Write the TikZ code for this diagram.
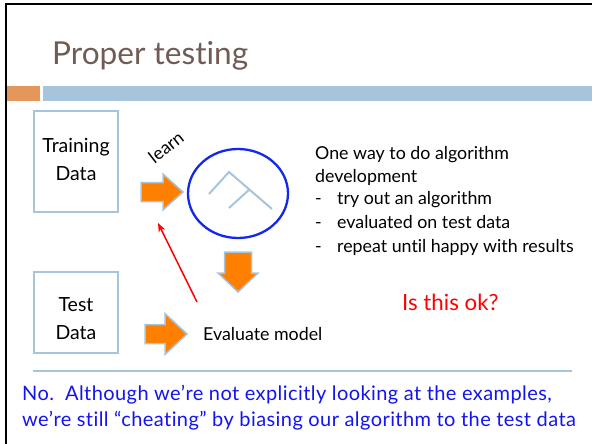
\documentclass[tikz,border=0pt]{standalone}
\usepackage{fontspec}
\setmainfont{Lato}[Ligatures=NoCommon]
\usetikzlibrary{arrows.meta,positioning,shapes.geometric}

\definecolor{titlebrown}{RGB}{112,92,84}
\definecolor{barorange}{RGB}{229,150,90}
\definecolor{barblue}{RGB}{166,196,220}
\definecolor{arroworange}{RGB}{255,127,0}
\definecolor{modelblue}{RGB}{20,40,235}
\definecolor{notered}{RGB}{255,0,0}
\definecolor{answerblue}{RGB}{20,20,240}

\newcommand\titletext{\fontsize{31.6}{36}\selectfont}
\newcommand\boxtext{\fontsize{19.5}{28}\selectfont}
\newcommand\bodytext{\fontsize{17.8}{22}\selectfont}
\newcommand\answertext{\fontsize{20}{24}\selectfont\addfontfeatures{LetterSpace=2.1}}
% fat block arrow: tail centre, angle, shaft half width, head half width, shaft length, total length
\newcommand\fatarrow[6]{
  \draw[fatarrowstyle, shift={#1}, rotate=#2]
    (0, -#3) -- (#5, -#3) -- (#5, -#4) -- (#6, 0)
    -- (#5, #4) -- (#5, #3) -- (0, #3) -- cycle ;
}

\tikzset{
  plaintext/.style={inner sep=0pt, anchor=base west, font=\bodytext},
  databox/.style={draw=barblue, line width=2pt, minimum width=84pt},
  boxlabel/.style={align=center, font=\boxtext, inner sep=0pt},
  fatarrowstyle/.style={fill=arroworange, draw=barblue, line width=1.5pt,
    line join=miter},
  treeline/.style={barblue, line width=2pt},
  cheatarrow/.style={notered, line width=1.5pt, -{Stealth[length=9pt,width=7pt]}},
}

\begin{document}
\begin{tikzpicture}[x=1pt, y=-1pt]
  \useasboundingbox (0,0) rectangle (592,444);
  % slide frame and title bar
  \draw[line width=2pt] (6,444) -- (6,4.3) -- (592,4.3);
  \node[plaintext, font=\titletext, text=titlebrown] (title) at (52,65) {Proper testing};
  \fill[barorange] (7,86) rectangle (40,101);
  \fill[barblue] (43,86) rectangle (592,101);

  % data boxes
  \node[databox, minimum height=101pt] (train) at (76,161.5) {};
  \node[boxlabel] (trainlabel) at ([yshift=2pt]train.center) {Training\\Data};
  \node[databox, minimum height=81pt] (test) at (76,312.5) {};
  \node[boxlabel] (testlabel) at ([yshift=-6pt]test.center) {Test\\Data};

  % learning step
  \fatarrow{(141,192)}{0}{9.5}{18}{22}{42}
  \node[font=\bodytext, rotate=38, inner sep=0pt] (learn) at (166,147) {learn};
  \node[draw=modelblue, line width=2.3pt, ellipse, minimum width=100pt,
    minimum height=89pt] (model) at (238,193.5) {};
  \draw[treeline] (209,194) -- (229,172) -- (272,209)
                  (229,208) -- (250,189);
  \fatarrow{(238,252)}{-90}{13.5}{20}{21}{40}

  % evaluation step
  \fatarrow{(145,334)}{0}{9.5}{20.5}{20}{42}
  \node[plaintext] (evaluate) at (203,340) {Evaluate model};
  \coordinate (cheatstart) at (197,302);
  \coordinate (cheatend) at (158,223);
  \draw[cheatarrow] (cheatstart) -- (cheatend);

  % notes on the right
  \node[plaintext] (way1) at (315,159) {One way to do algorithm};
  \node[plaintext] (way2) at (315,182) {development};
  \foreach \step [count=\i] in {try out an algorithm, evaluated on test data,
      repeat until happy with results} {
    \node[plaintext] (dash\i) at (315,204+24*\i-24) {-};
    \node[plaintext] (step\i) at (337,204+24*\i-24) {\step};
  }
  \node[plaintext, font=\fontsize{22.3}{26}\selectfont, text=notered] (question)
    at (402,310) {Is this ok?};

  % answer
  \draw[barblue, line width=2pt] (33,371) -- (572,371);
  \node[plaintext, font=\answertext, text=answerblue] (answer1) at (22,400)
    {No.\ \ Although we’re not explicitly looking at the examples,};
  \node[plaintext, font=\answertext, text=answerblue] (answer2) at (22,426)
    {we’re still “cheating” by biasing our algorithm to the test data};
\end{tikzpicture}
\end{document}
